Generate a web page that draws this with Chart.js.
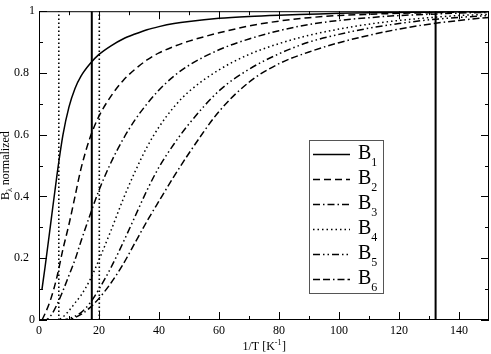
<!DOCTYPE html>
<html>
<head>
<meta charset="utf-8">
<script src="https://cdn.jsdelivr.net/npm/chart.js@4.4.0/dist/chart.umd.min.js"></script>
<style>
  body { margin: 0; background: #fff; }
  #wrap { width: 491px; height: 354px; }
</style>
</head>
<body>
<div id="wrap"><canvas id="chart" width="491" height="354"></canvas></div>
<script>
const xGrid = [1, 2, 4, 6, 8, 10, 12, 14, 17, 20, 24, 28, 32, 36, 40, 45, 50, 60, 70, 80, 90, 100, 110, 120, 130, 140, 150];

// normalized B_lambda curves
const b1 = [0.10, 0.17, 0.32, 0.47, 0.60, 0.69, 0.75, 0.79, 0.83, 0.86, 0.888, 0.91, 0.926, 0.94, 0.95, 0.96, 0.967, 0.977, 0.983, 0.987, 0.99, 0.993, 0.995, 0.996, 0.997, 0.998, 0.999];
const b2 = [0.0, 0.02, 0.07, 0.14, 0.23, 0.31, 0.40, 0.49, 0.59, 0.66, 0.725, 0.775, 0.812, 0.842, 0.865, 0.886, 0.903, 0.93, 0.952, 0.968, 0.979, 0.986, 0.99, 0.993, 0.995, 0.997, 0.998];
const b3 = [0, 0, 0.015, 0.05, 0.095, 0.145, 0.195, 0.255, 0.34, 0.42, 0.51, 0.585, 0.648, 0.70, 0.745, 0.79, 0.825, 0.875, 0.91, 0.937, 0.957, 0.97, 0.979, 0.986, 0.99, 0.994, 0.996];
const b4 = [0, 0, 0, 0, 0.01, 0.03, 0.055, 0.08, 0.13, 0.195, 0.29, 0.39, 0.48, 0.56, 0.625, 0.69, 0.74, 0.81, 0.86, 0.895, 0.922, 0.942, 0.958, 0.97, 0.979, 0.986, 0.99];
const b5 = [0, 0, 0, 0, 0, 0.005, 0.012, 0.024, 0.055, 0.1, 0.17, 0.25, 0.335, 0.42, 0.495, 0.57, 0.635, 0.742, 0.812, 0.862, 0.9, 0.925, 0.945, 0.96, 0.972, 0.98, 0.986];
const b6 = [0, 0, 0, 0, 0, 0, 0.008, 0.018, 0.04, 0.07, 0.12, 0.18, 0.25, 0.32, 0.385, 0.465, 0.54, 0.675, 0.77, 0.83, 0.868, 0.898, 0.922, 0.942, 0.958, 0.97, 0.98];

const seriesNames = ['1', '2', '3', '4', '5', '6'];

// vertical marker lines
const solidLinesX = [17.6, 132.2];
const dottedLinesX = [6.6, 20.1];

// axis ticks
const xTicks = [0, 20, 40, 60, 80, 100, 120, 140];
const xMinor = [10, 30, 50, 70, 90, 110, 130];
const yTicks = [0, 0.2, 0.4, 0.6, 0.8, 1];
const yMinor = [0.1, 0.3, 0.5, 0.7, 0.9];

const serif = "'Liberation Serif', 'DejaVu Serif', serif";

const dashes = [
    [],
    [7, 4],
    [7, 3, 1.5, 3],
    [1.5, 3],
    [7, 3, 1.5, 3, 1.5, 3],
    [7, 3, 7, 3, 1.5, 3]
];

function toPoints(ys) {
    return xGrid.map((x, i) => ({ x: x, y: ys[i] }));
}

const curves = [b1, b2, b3, b4, b5, b6].map((ys, i) => ({
    label: 'B' + seriesNames[i],
    data: toPoints(ys),
    borderColor: '#000',
    borderWidth: 1.5,
    borderDash: dashes[i],
    pointRadius: 0,
    showLine: true,
    fill: false,
    cubicInterpolationMode: 'monotone'
}));

const vlines = [];
solidLinesX.forEach(x => vlines.push({
    label: '',
    data: [{ x: x, y: 0 }, { x: x, y: 1 }],
    borderColor: '#000',
    borderWidth: 2,
    pointRadius: 0,
    showLine: true
}));
dottedLinesX.forEach(x => vlines.push({
    label: '',
    data: [{ x: x, y: 0 }, { x: x, y: 1 }],
    borderColor: '#000',
    borderWidth: 1.6,
    borderDash: [1.5, 2.5],
    pointRadius: 0,
    showLine: true
}));

// inward ticks on all four sides, axis titles and the boxed legend
const decorations = {
    id: 'decorations',
    afterDraw(chart) {
        const ctx = chart.ctx;
        const a = chart.chartArea;
        const xs = chart.scales.x, ys = chart.scales.y;
        ctx.save();
        ctx.strokeStyle = '#000';
        ctx.lineWidth = 1;
        ctx.setLineDash([]);
        ctx.beginPath();
        function xt(v, len) {
            const p = Math.round(xs.getPixelForValue(v)) + 0.5;
            ctx.moveTo(p, a.bottom); ctx.lineTo(p, a.bottom - len);
            ctx.moveTo(p, a.top); ctx.lineTo(p, a.top + len);
        }
        function yt(v, len) {
            const p = Math.round(ys.getPixelForValue(v)) + 0.5;
            ctx.moveTo(a.left, p); ctx.lineTo(a.left + len, p);
            ctx.moveTo(a.right, p); ctx.lineTo(a.right - len, p);
        }
        xTicks.forEach(v => xt(v, 8));
        xMinor.forEach(v => xt(v, 4));
        yTicks.forEach(v => yt(v, 8));
        yMinor.forEach(v => yt(v, 4));
        ctx.stroke();
        ctx.strokeRect(a.left + 0.5, a.top + 0.5, a.right - a.left - 1, a.bottom - a.top - 1);

        // y title: B_lambda normalized
        ctx.fillStyle = '#000';
        ctx.textBaseline = 'alphabetic';
        ctx.textAlign = 'left';
        ctx.translate(9, (a.top + a.bottom) / 2);
        ctx.rotate(-Math.PI / 2);
        ctx.font = '12px ' + serif;
        const wB = ctx.measureText('B').width;
        const wN = ctx.measureText(' normalized').width;
        ctx.font = '8px ' + serif;
        const wL = ctx.measureText('λ').width;
        let x0 = -(wB + wL + wN) / 2;
        ctx.font = '12px ' + serif;
        ctx.fillText('B', x0, 0);
        ctx.font = '8px ' + serif;
        ctx.fillText('λ', x0 + wB, 3);
        ctx.font = '12px ' + serif;
        ctx.fillText(' normalized', x0 + wB + wL, 0);
        ctx.setTransform(1, 0, 0, 1, 0, 0);

        // x title: 1/T [K^-1]
        ctx.font = '12px ' + serif;
        const w1 = ctx.measureText('1/T [K').width;
        const w3 = ctx.measureText(']').width;
        ctx.font = '8px ' + serif;
        const w2 = ctx.measureText('-1').width;
        x0 = (a.left + a.right) / 2 - (w1 + w2 + w3) / 2;
        const by = 350;
        ctx.font = '12px ' + serif;
        ctx.fillText('1/T [K', x0, by);
        ctx.font = '8px ' + serif;
        ctx.fillText('-1', x0 + w1, by - 5);
        ctx.font = '12px ' + serif;
        ctx.fillText(']', x0 + w1 + w2 + 0.5, by);

        // legend box
        const lx = 309, ly = 140, lw = 74, lh = 153;
        ctx.fillStyle = '#fff';
        ctx.fillRect(lx, ly, lw, lh);
        ctx.strokeStyle = '#555';
        ctx.lineWidth = 1;
        ctx.strokeRect(lx + 0.5, ly + 0.5, lw, lh);
        curves.forEach((d, i) => {
            const cy = 154 + i * 25;
            ctx.strokeStyle = '#000';
            ctx.lineWidth = 1.5;
            ctx.setLineDash(d.borderDash);
            ctx.beginPath();
            ctx.moveTo(313, cy + 0.5);
            ctx.lineTo(350, cy + 0.5);
            ctx.stroke();
            ctx.setLineDash([]);
            ctx.fillStyle = '#000';
            ctx.font = '20px ' + serif;
            ctx.fillText('B', 358, cy + 5);
            const wb = ctx.measureText('B').width;
            ctx.font = '12px ' + serif;
            ctx.fillText(seriesNames[i], 358 + wb, cy + 12);
        });
        ctx.restore();
    }
};

new Chart(document.getElementById('chart').getContext('2d'), {
    type: 'scatter',
    data: { datasets: curves.concat(vlines) },
    options: {
        responsive: false,
        animation: false,
        layout: { padding: { top: 5, right: 2, left: 0, bottom: 0 } },
        plugins: {
            legend: { display: false },
            tooltip: { enabled: false }
        },
        scales: {
            x: {
                type: 'linear',
                min: 0,
                max: 150,
                afterFit(s) { s.height = 34; },
                afterBuildTicks(s) { s.ticks = xTicks.map(v => ({ value: v })); },
                grid: { display: false, drawTicks: false },
                border: { display: false },
                ticks: {
                    padding: 4,
                    color: '#000',
                    font: { family: serif, size: 12 },
                    maxRotation: 0
                }
            },
            y: {
                type: 'linear',
                min: 0,
                max: 1,
                afterFit(s) { s.width = 39; },
                afterBuildTicks(s) { s.ticks = yTicks.map(v => ({ value: v })); },
                grid: { display: false, drawTicks: false },
                border: { display: false },
                ticks: {
                    padding: 4,
                    color: '#000',
                    font: { family: serif, size: 12 },
                    callback: function(v) {
                        if (v === 0 || v === 1) return String(v);
                        return (Math.round(v * 10) / 10).toFixed(1) + '\u2002';
                    }
                }
            }
        }
    },
    plugins: [decorations]
});
</script>
</body>
</html>
